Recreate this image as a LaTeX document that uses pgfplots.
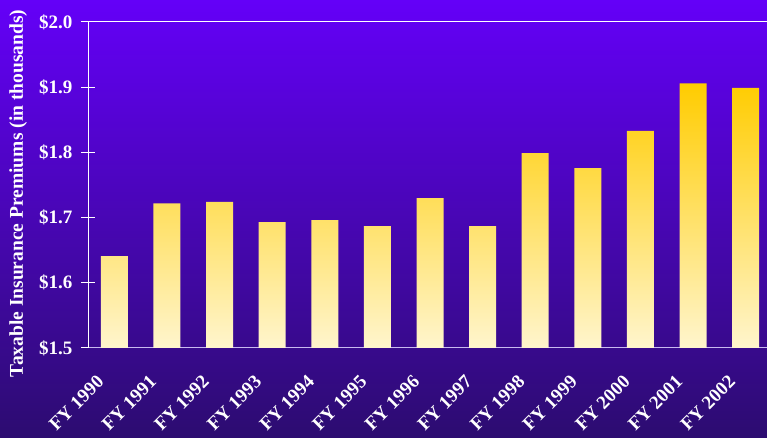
\documentclass[border=0pt]{standalone}
\usepackage{pgfplots}
\pgfplotsset{compat=1.18}
\usepackage{fontspec}
\setmainfont{Liberation Serif}
\definecolor{bgtop}{RGB}{100,0,248}
\definecolor{bgmid}{RGB}{78,4,205}
\definecolor{bgbot}{RGB}{44,12,112}
\definecolor{bartop}{RGB}{255,204,0}
\definecolor{barmid}{RGB}{255,222,130}
\definecolor{barbot}{RGB}{255,245,205}
\definecolor{xaxis}{RGB}{200,185,240}
\begin{document}
\begin{tikzpicture}[x=1pt,y=1pt]
\path[use as bounding box] (0,0) rectangle (767,438);
\begin{scope}
\clip (0,0) rectangle (767,438);
\shade[top color=bgtop, middle color=bgmid, bottom color=bgbot] (0,0) rectangle (767,438);
\begin{axis}[
  at={(88pt,90pt)}, anchor=south west,
  scale only axis, width=684pt, height=326pt,
  xmin=-0.5, xmax=12.5, ymin=1.5, ymax=2.0,
  axis x line*=bottom, axis y line*=left,
  x axis line style={draw=xaxis, line width=1pt},
  y axis line style={draw=white, line width=1pt},
  xtick={0,...,12},
  xticklabels={FY 1990,FY 1991,FY 1992,FY 1993,FY 1994,FY 1995,FY 1996,FY 1997,FY 1998,FY 1999,FY 2000,FY 2001,FY 2002},
  x tick style={draw=none},
  extra x ticks={0.5,1.5,...,11.5},
  extra x tick labels={},
  extra x tick style={tick style={draw=xaxis, line width=1pt}, major tick length=14pt},
  ytick={1.5,1.6,1.7,1.8,1.9,2.0},
  yticklabels={\$1.5,\$1.6,\$1.7,\$1.8,\$1.9,\$2.0},
  y tick style={draw=white, line width=1pt},
  tick align=center, major tick length=14pt,
  ticklabel style={text=white, font=\bfseries\fontsize{19}{19}\selectfont},
  yticklabel style={xshift=-5pt},
  xticklabel style={xshift=-13pt, yshift=-23pt, rotate=45, anchor=east, inner sep=1pt},
  ylabel={Taxable Insurance Premiums (in thousands)},
  ylabel style={at={(axis description cs:-0.102,0.474)}, anchor=center, rotate=0, text=white, font=\bfseries\fontsize{19.5}{19.5}\selectfont},
  clip=false,
]
\draw[white, line width=1pt] (axis cs:-0.5,2.0) -- (axis cs:12.5,2.0);
\addplot[ybar, bar width=27pt, draw=none, top color=bartop, middle color=barmid, bottom color=barbot]
  coordinates {(0,1.641) (1,1.722) (2,1.724) (3,1.693) (4,1.696) (5,1.687) (6,1.730) (7,1.687) (8,1.799) (9,1.776) (10,1.833) (11,1.906) (12,1.899)};
\end{axis}
\end{scope}
\end{tikzpicture}
\end{document}
